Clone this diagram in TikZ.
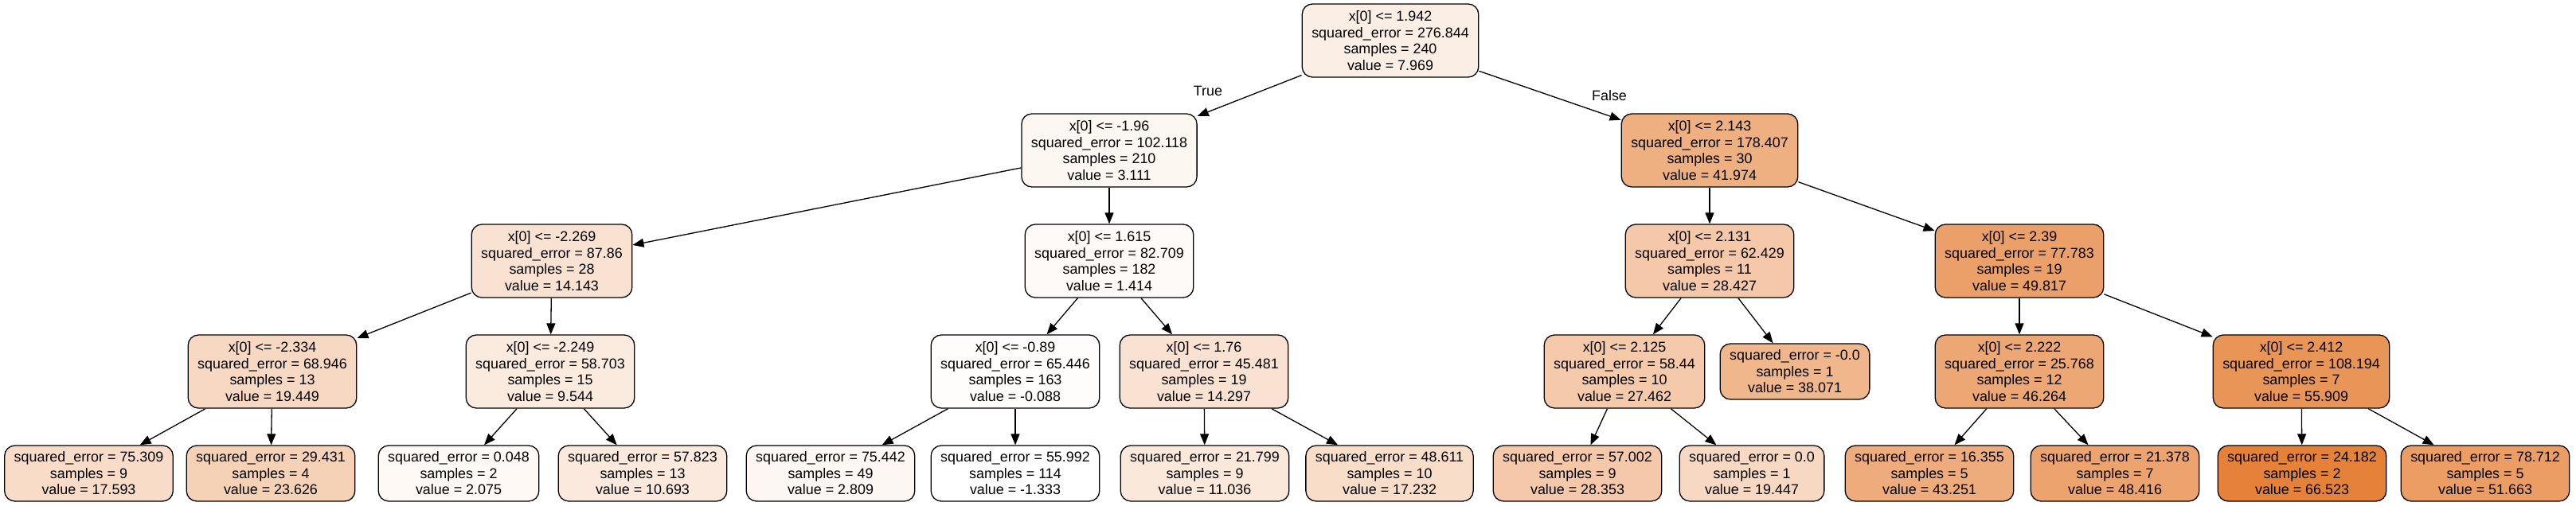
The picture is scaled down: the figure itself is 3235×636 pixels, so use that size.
\documentclass[tikz,border=0pt]{standalone}
\usepackage{fontspec}
\setmainfont{Liberation Sans}
\usetikzlibrary{arrows.meta}
\definecolor{sk}{RGB}{229,129,57}
\begin{document}
\begin{tikzpicture}[x=1pt,y=-1pt,
  tn/.style={draw=black,line width=1.3pt,rounded corners=13pt,align=center,
    font=\fontsize{17.9}{20.5}\selectfont,inner xsep=12pt,inner ysep=0pt},
  dec/.style={tn,minimum height=92pt},
  leaf/.style={tn,minimum height=70pt},
  edge/.style={line width=1.3pt,-{Triangle[length=14pt,width=11pt]}},
  lab/.style={font=\fontsize{17.9}{20.5}\selectfont,inner sep=0pt}]
\useasboundingbox (0,0) rectangle (3235,636);
% rank 0
\node[dec,fill=sk!13.71!white] (root) at (1746,51) {x[0] <= 1.942\\squared\_error = 276.844\\samples = 240\\value = 7.969};
% rank 1
\node[dec,fill=sk!6.55!white] (L) at (1393,189) {x[0] <= -1.96\\squared\_error = 102.118\\samples = 210\\value = 3.111};
\node[dec,fill=sk!63.82!white] (R) at (2147,189) {x[0] <= 2.143\\squared\_error = 178.407\\samples = 30\\value = 41.974};
% rank 2
\node[dec,fill=sk!22.81!white] (LL) at (693,328) {x[0] <= -2.269\\squared\_error = 87.86\\samples = 28\\value = 14.143};
\node[dec,fill=sk!4.05!white] (LR) at (1393,328) {x[0] <= 1.615\\squared\_error = 82.709\\samples = 182\\value = 1.414};
\node[dec,fill=sk!43.86!white] (RL) at (2147,328) {x[0] <= 2.131\\squared\_error = 62.429\\samples = 11\\value = 28.427};
\node[dec,fill=sk!75.38!white] (RR) at (2536,328) {x[0] <= 2.39\\squared\_error = 77.783\\samples = 19\\value = 49.817};
% rank 3
\node[dec,fill=sk!30.63!white] (LLL) at (342,467) {x[0] <= -2.334\\squared\_error = 68.946\\samples = 13\\value = 19.449};
\node[dec,fill=sk!16.03!white] (LLR) at (691,467) {x[0] <= -2.249\\squared\_error = 58.703\\samples = 15\\value = 9.544};
\node[dec,fill=sk!1.83!white] (LRL) at (1275,467) {x[0] <= -0.89\\squared\_error = 65.446\\samples = 163\\value = -0.088};
\node[dec,fill=sk!23.03!white] (LRR) at (1512,467) {x[0] <= 1.76\\squared\_error = 45.481\\samples = 19\\value = 14.297};
\node[dec,fill=sk!42.44!white] (RLL) at (2040,467) {x[0] <= 2.125\\squared\_error = 58.44\\samples = 10\\value = 27.462};
\node[leaf,fill=sk!58.07!white] (RLR) at (2254,467) {squared\_error = -0.0\\samples = 1\\value = 38.071};
\node[dec,fill=sk!70.14!white] (RRL) at (2536,467) {x[0] <= 2.222\\squared\_error = 25.768\\samples = 12\\value = 46.264};
\node[dec,fill=sk!84.36!white] (RRR) at (2890,467) {x[0] <= 2.412\\squared\_error = 108.194\\samples = 7\\value = 55.909};
% rank 4 leaves
\node[leaf,fill=sk!27.89!white] (f1) at (111.5,595) {squared\_error = 75.309\\samples = 9\\value = 17.593};
\node[leaf,fill=sk!36.78!white] (f2) at (340,595) {squared\_error = 29.431\\samples = 4\\value = 23.626};
\node[leaf,fill=sk!5.02!white] (f3) at (576,595) {squared\_error = 0.048\\samples = 2\\value = 2.075};
\node[leaf,fill=sk!17.72!white] (f4) at (807,595) {squared\_error = 57.823\\samples = 13\\value = 10.693};
\node[leaf,fill=sk!6.10!white] (f5) at (1043,595) {squared\_error = 75.442\\samples = 49\\value = 2.809};
\node[leaf,fill=white] (f6) at (1275,595) {squared\_error = 55.992\\samples = 114\\value = -1.333};
\node[leaf,fill=sk!18.23!white] (f7) at (1513,595) {squared\_error = 21.799\\samples = 9\\value = 11.036};
\node[leaf,fill=sk!27.36!white] (f8) at (1745,595) {squared\_error = 48.611\\samples = 10\\value = 17.232};
\node[leaf,fill=sk!43.75!white] (f9) at (1981,595) {squared\_error = 57.002\\samples = 9\\value = 28.353};
\node[leaf,fill=sk!30.62!white] (f10) at (2200,595) {squared\_error = 0.0\\samples = 1\\value = 19.447};
\node[leaf,fill=sk!65.70!white] (f11) at (2423,595) {squared\_error = 16.355\\samples = 5\\value = 43.251};
\node[leaf,fill=sk!73.32!white] (f12) at (2656,595) {squared\_error = 21.378\\samples = 7\\value = 48.416};
\node[leaf,fill=sk] (f13) at (2891,595) {squared\_error = 24.182\\samples = 2\\value = 66.523};
\node[leaf,fill=sk!78.10!white] (f14) at (3121,595) {squared\_error = 78.712\\samples = 5\\value = 51.663};
% edge labels
\node[lab] (tl) at (1517,114) {True};
\node[lab] (fl) at (2021,120) {False};
% edges
\draw[edge] (root) -- (L);
\draw[edge] (root) -- (R);
\draw[edge] (L) -- (LL);
\draw[edge] (L) -- (LR);
\draw[edge] (R) -- (RL);
\draw[edge] (R) -- (RR);
\draw[edge] (LL) -- (LLL);
\draw[edge] (LL) -- (LLR);
\draw[edge] (LR) -- (LRL);
\draw[edge] (LR) -- (LRR);
\draw[edge] (RL) -- (RLL);
\draw[edge] (RL) -- (RLR);
\draw[edge] (RR) -- (RRL);
\draw[edge] (RR) -- (RRR);
\draw[edge] (LLL) -- (f1);
\draw[edge] (LLL) -- (f2);
\draw[edge] (LLR) -- (f3);
\draw[edge] (LLR) -- (f4);
\draw[edge] (LRL) -- (f5);
\draw[edge] (LRL) -- (f6);
\draw[edge] (LRR) -- (f7);
\draw[edge] (LRR) -- (f8);
\draw[edge] (RLL) -- (f9);
\draw[edge] (RLL) -- (f10);
\draw[edge] (RRL) -- (f11);
\draw[edge] (RRL) -- (f12);
\draw[edge] (RRR) -- (f13);
\draw[edge] (RRR) -- (f14);
\end{tikzpicture}
\end{document}
